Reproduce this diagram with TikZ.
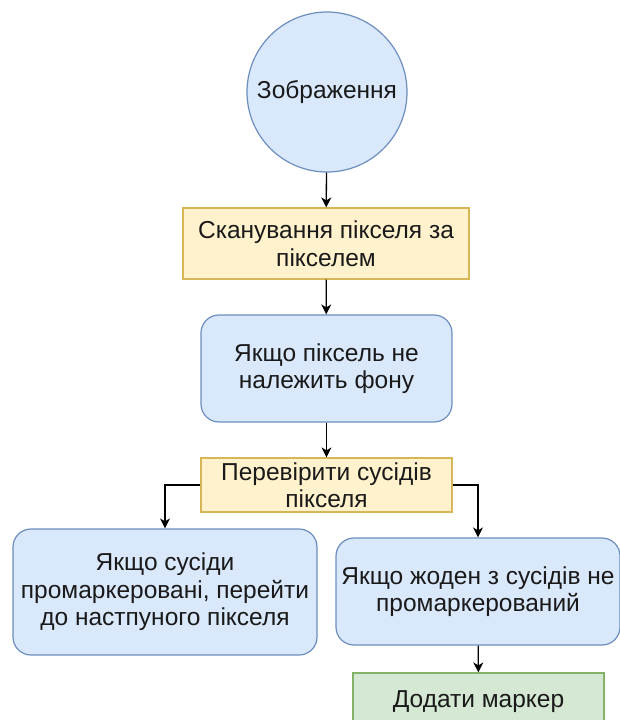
\documentclass[tikz,border=0pt]{standalone}
\usepackage{fontspec}
\setmainfont{Liberation Sans}
\usetikzlibrary{arrows.meta}
\definecolor{bfill}{HTML}{DAE8FC}
\definecolor{bdraw}{HTML}{6C8EBF}
\definecolor{yfill}{HTML}{FFF2CC}
\definecolor{ydraw}{HTML}{D6B656}
\definecolor{gfill}{HTML}{D5E8D4}
\definecolor{gdraw}{HTML}{82B366}
\definecolor{txt}{HTML}{1A1A1A}
\tikzset{
  base/.style={inner sep=0pt, align=center, text=txt, line width=1.2pt,
    font=\fontsize{24.5}{27.5}\selectfont},
  bluebox/.style={base, draw=bdraw, fill=bfill, rounded corners=18pt},
  yellowbox/.style={base, draw=ydraw, fill=yfill},
  greenbox/.style={base, draw=gdraw, fill=gfill},
  startcirc/.style={base, circle, draw=bdraw, fill=bfill, minimum size=160pt},
  conn/.style={line width=1.3pt, draw=black, -{Stealth[length=10pt,width=10pt,inset=3pt]}}
}
\begin{document}
\begin{tikzpicture}[x=1pt,y=-1pt]
\clip (0,0) rectangle (620,720);
\fill[white] (0,0) rectangle (620,720);
\node[startcirc] (img) at (327,92) {Зображення};
\node[yellowbox, minimum width=286pt, minimum height=71pt] (scan) at (326,243.5) {Сканування пікселя за\\пікселем};
\node[bluebox, minimum width=251pt, minimum height=107pt] (ifpix) at (326.5,368.5) {Якщо піксель не\\належить фону};
\node[yellowbox, minimum width=251pt, minimum height=54pt] (check) at (326.5,485) {Перевірити сусідів\\пікселя};
\node[bluebox, minimum width=304pt, minimum height=126pt] (marked) at (165,592) {Якщо сусіди\\промаркеровані, перейти\\до настпуного пікселя};
\node[bluebox, minimum width=284pt, minimum height=107pt] (notmarked) at (478,591.5) {Якщо жоден з сусідів не\\промаркерований};
\node[greenbox, minimum width=251pt, minimum height=58pt] (add) at (478.5,702) {Додати маркер};
\draw[conn] (img) -- (scan);
\draw[conn] (scan) -- (ifpix);
\draw[conn] (ifpix) -- (check);
\draw[conn] (check.west) -| (marked.north);
\draw[conn] (check.east) -| (notmarked.north);
\draw[conn] (notmarked) -- (add);
\end{tikzpicture}
\end{document}
